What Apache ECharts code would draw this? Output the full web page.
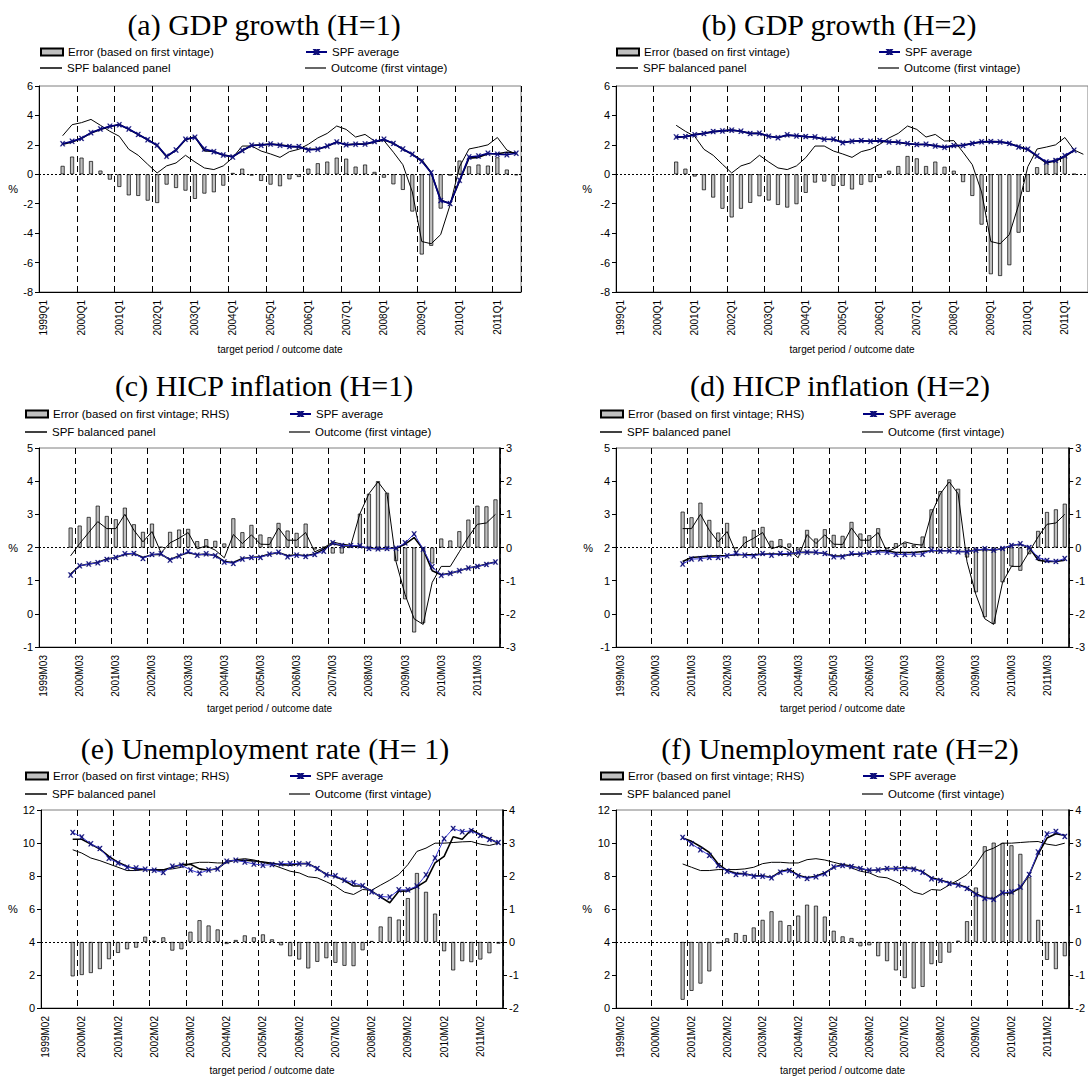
<!DOCTYPE html>
<html>
<head>
<meta charset="utf-8">
<script src="https://cdn.jsdelivr.net/npm/echarts@6/dist/echarts.min.js"></script>
<style>
    html, body { margin: 0; padding: 0; background: #fff; }
    #chart { width: 1088px; height: 1076px; }
</style>
</head>
<body>
<div id="chart"></div>
<script>
const FONT = '"Liberation Sans", Arial, Helvetica, sans-serif';

// x axis: 51 periods from 1999, labelled every 4th
const years = [1999, 2000, 2001, 2002, 2003, 2004, 2005, 2006, 2007, 2008, 2009, 2010, 2011];
const quarterTags = ['Q1', 'Q2', 'Q3', 'Q4'];
const hicpTags = ['M03', 'M06', 'M09', 'M12'];
const unempTags = ['M02', 'M05', 'M08', 'M11'];
const periodCount = 51;

// GDP growth, first value at period index 2 (1999Q3)
const gdpOutcome = [2.62, 3.37, 3.51, 3.73, 3.33, 2.92, 2.58, 1.70, 1.29, 0.68, 0.09, 0.57, 0.77, 1.29, 0.84, 0.43, 0.32, 0.57, 1.13, 1.92, 1.92, 1.58, 1.38, 1.15, 1.54, 1.70, 2.04, 2.47, 2.78, 3.28, 3.05, 2.53, 2.71, 2.26, 2.29, 1.5, 0.65, -1.2, -4.57, -4.72, -4.10, -2.08, 0.52, 1.72, 1.85, 2.0, 2.5, 1.65, 1.36];
const gdpH1Error = [0.57, 1.2, 1.13, 0.9, 0.25, -0.36, -0.86, -1.43, -1.47, -1.79, -1.95, -0.70, -0.93, -1.11, -1.67, -1.31, -1.22, -0.77, 0.09, 0.38, -0.09, -0.45, -0.70, -0.81, -0.34, -0.18, 0.38, 0.75, 0.86, 1.13, 1.06, 0.52, 0.66, 0.16, -0.23, -0.68, -1.06, -2.53, -5.45, -4.86, -2.33, -0.09, 0.93, 0.54, 0.66, 0.59, 1.15, 0.32, -0.07];
const gdpH1Average = [2.08, 2.24, 2.44, 2.83, 3.08, 3.26, 3.37, 3.08, 2.71, 2.35, 1.97, 1.22, 1.65, 2.38, 2.51, 1.72, 1.54, 1.31, 1.18, 1.61, 1.97, 1.97, 2.06, 1.97, 1.88, 1.88, 1.65, 1.70, 1.92, 2.19, 2.01, 2.04, 2.06, 2.22, 2.38, 2.10, 1.72, 1.36, 0.88, 0.11, -1.79, -1.99, -0.41, 1.18, 1.24, 1.43, 1.36, 1.33, 1.43];
const gdpH1Balanced = [2.05, 2.2, 2.45, 2.8, 3.05, 3.25, 3.38, 3.05, 2.7, 2.35, 1.95, 1.2, 1.65, 2.35, 2.55, 1.6, 1.55, 1.3, 1.2, 1.6, 1.95, 2.0, 2.05, 2.0, 1.9, 1.85, 1.7, 1.7, 1.9, 2.2, 2.0, 2.05, 2.05, 2.2, 2.35, 2.1, 1.7, 1.35, 0.95, 0.1, -1.75, -2.0, -0.45, 1.1, 1.15, 1.4, 1.4, 1.5, 1.45];
// H=2 starts at period index 6 (2000Q3)
const gdpH2Error = [0.86, 0.38, -0.15, -1.08, -1.58, -2.34, -2.93, -2.34, -1.94, -1.49, -1.78, -2.08, -2.26, -2.03, -1.26, -0.56, -0.49, -0.78, -0.78, -1.03, -0.71, -0.53, -0.24, 0.24, 0.56, 1.24, 1.08, 0.56, 0.86, 0.51, 0.24, -0.53, -1.47, -3.42, -6.79, -6.91, -6.18, -3.97, -1.19, 0.48, 0.9, 1.05, 1.25, 0.02];
const gdpH2Average = [2.54, 2.56, 2.68, 2.77, 2.90, 2.95, 3.0, 2.93, 2.77, 2.79, 2.58, 2.49, 2.68, 2.61, 2.56, 2.54, 2.38, 2.38, 2.15, 2.24, 2.29, 2.24, 2.29, 2.20, 2.18, 2.09, 2.02, 2.04, 1.93, 1.83, 1.95, 1.96, 2.1, 2.21, 2.22, 2.2, 2.1, 1.86, 1.7, 1.25, 0.83, 0.94, 1.26, 1.63];
const gdpH2Balanced = [2.5, 2.55, 2.7, 2.78, 2.9, 2.95, 3.0, 2.92, 2.78, 2.78, 2.58, 2.5, 2.65, 2.62, 2.57, 2.52, 2.38, 2.36, 2.17, 2.24, 2.28, 2.24, 2.27, 2.2, 2.17, 2.08, 2.02, 2.02, 1.93, 1.85, 1.93, 1.97, 2.1, 2.2, 2.22, 2.2, 2.1, 1.88, 1.68, 1.22, 0.78, 0.9, 1.2, 1.62];

// HICP inflation, first value at period index 3 (1999M12)
const hicpOutcome = [1.75, 2.12, 2.45, 2.78, 2.57, 2.57, 3.0, 2.52, 2.17, 2.48, 1.84, 2.14, 2.28, 2.45, 1.96, 2.05, 1.92, 1.69, 2.39, 2.12, 2.38, 2.10, 2.09, 2.59, 2.22, 2.22, 2.45, 1.87, 1.99, 2.17, 2.10, 2.07, 3.02, 3.62, 3.98, 3.62, 1.57, 0.58, -0.15, -0.32, 0.95, 1.43, 1.43, 1.87, 2.32, 2.70, 2.74, 3.0];
const hicpH1Error = [0.60, 0.66, 0.92, 1.26, 0.95, 0.85, 1.20, 0.70, 0.47, 0.72, 0.02, 0.47, 0.54, 0.56, 0.19, 0.25, 0.20, 0.12, 0.88, 0.46, 0.68, 0.39, 0.31, 0.74, 0.51, 0.44, 0.72, -0.06, 0.02, -0.18, -0.18, 0.03, 1.02, 1.62, 2.0, 1.65, -0.41, -1.56, -2.56, -2.28, -0.48, 0.27, 0.21, 0.49, 0.84, 1.26, 1.24, 1.45];
const hicpH1Average = [1.17, 1.45, 1.50, 1.54, 1.64, 1.70, 1.81, 1.82, 1.67, 1.79, 1.81, 1.62, 1.74, 1.88, 1.77, 1.81, 1.75, 1.56, 1.52, 1.65, 1.70, 1.70, 1.80, 1.86, 1.72, 1.77, 1.73, 1.79, 1.89, 2.14, 2.06, 2.06, 2.05, 1.97, 1.96, 1.97, 1.98, 2.14, 2.41, 1.95, 1.42, 1.16, 1.22, 1.30, 1.38, 1.43, 1.49, 1.56];
const hicpH1Balanced = [1.2, 1.45, 1.5, 1.55, 1.65, 1.7, 1.8, 1.82, 1.7, 1.78, 1.8, 1.63, 1.75, 1.85, 1.78, 1.8, 1.76, 1.58, 1.55, 1.67, 1.7, 1.72, 1.8, 1.85, 1.75, 1.78, 1.75, 1.8, 1.95, 2.12, 2.05, 2.05, 2.03, 1.98, 1.96, 1.97, 1.98, 2.1, 2.3, 1.95, 1.3, 1.18, 1.22, 1.3, 1.38, 1.43, 1.5, 1.56];
// H=2 starts at period index 7 (2000M12)
const hicpH2Error = [1.08, 0.91, 1.35, 0.83, 0.45, 0.74, -0.02, 0.33, 0.53, 0.62, 0.20, 0.25, 0.12, -0.08, 0.53, 0.27, 0.55, 0.38, 0.35, 0.77, 0.42, 0.37, 0.58, -0.05, 0.13, 0.13, 0.08, 0.33, 1.15, 1.70, 2.05, 1.77, -0.30, -1.35, -2.10, -2.30, -1.05, -0.57, -0.70, -0.20, 0.50, 1.07, 1.15, 1.32];
const hicpH2Average = [1.50, 1.65, 1.66, 1.70, 1.70, 1.75, 1.82, 1.77, 1.74, 1.82, 1.77, 1.82, 1.81, 1.85, 1.86, 1.86, 1.82, 1.72, 1.72, 1.82, 1.80, 1.85, 1.86, 1.86, 1.79, 1.79, 1.80, 1.80, 1.92, 1.89, 1.90, 1.87, 1.87, 1.92, 1.96, 1.92, 1.97, 2.06, 2.11, 2.0, 1.70, 1.61, 1.58, 1.67];
const hicpH2Balanced = [1.58, 1.7, 1.72, 1.74, 1.75, 1.76, 1.78, 1.78, 1.78, 1.8, 1.8, 1.8, 1.8, 1.85, 1.86, 1.85, 1.82, 1.74, 1.74, 1.8, 1.8, 1.85, 1.9, 1.9, 1.85, 1.85, 1.85, 1.88, 1.9, 1.9, 1.9, 1.88, 1.88, 1.92, 1.94, 1.92, 1.97, 2.06, 2.1, 2.0, 1.62, 1.58, 1.58, 1.62];

// Unemployment rate, first value at period index 3 (1999M11)
const unempOutcome = [9.59, 9.39, 9.09, 8.93, 8.73, 8.53, 8.33, 8.33, 8.39, 8.39, 8.39, 8.43, 8.53, 8.75, 8.83, 8.83, 8.79, 8.79, 8.99, 9.05, 8.97, 8.83, 8.69, 8.49, 8.29, 8.19, 7.95, 7.89, 7.65, 7.39, 7.02, 6.88, 7.18, 7.14, 7.45, 7.75, 8.09, 8.69, 9.49, 9.69, 9.99, 9.99, 10.03, 10.07, 10.09, 9.93, 9.85, 9.99];
const unempH1Error = [-1.04, -1.0, -0.94, -0.82, -0.52, -0.33, -0.22, -0.17, 0.16, 0.04, 0.14, -0.26, -0.22, 0.31, 0.66, 0.50, 0.38, -0.06, 0.06, 0.20, 0.14, 0.23, 0.08, -0.10, -0.43, -0.53, -0.80, -0.60, -0.49, -0.63, -0.72, -0.73, -0.25, 0.03, 0.47, 0.76, 0.68, 1.33, 2.09, 1.52, 0.86, -0.28, -0.86, -0.58, -0.61, -0.53, -0.34, -0.05];
const unempH1Average = [10.64, 10.36, 9.95, 9.67, 9.07, 8.79, 8.53, 8.49, 8.41, 8.35, 8.21, 8.59, 8.65, 8.37, 8.17, 8.37, 8.43, 8.89, 8.95, 8.85, 8.73, 8.65, 8.69, 8.75, 8.75, 8.75, 8.73, 8.45, 8.07, 8.01, 7.75, 7.59, 7.41, 7.04, 6.76, 6.72, 7.16, 7.16, 7.39, 8.07, 9.09, 10.26, 10.88, 10.68, 10.74, 10.46, 10.21, 10.03];
const unempH1Balanced = [10.23, 10.23, 9.93, 9.63, 9.19, 8.83, 8.57, 8.43, 8.39, 8.35, 8.37, 8.53, 8.69, 8.71, 8.43, 8.35, 8.45, 8.89, 8.95, 8.95, 8.91, 8.85, 8.77, 8.69, 8.65, 8.75, 8.75, 8.45, 8.09, 7.97, 7.73, 7.39, 7.39, 7.08, 6.72, 6.38, 7.08, 7.10, 7.35, 7.69, 8.79, 9.19, 10.38, 10.23, 10.80, 10.50, 10.26, 9.99];
// H=2 starts at period index 7 (2000M11)
const unempH2Error = [-1.75, -1.48, -1.26, -0.89, -0.04, 0.11, 0.27, 0.21, 0.44, 0.67, 0.93, 0.64, 0.51, 0.80, 1.13, 1.10, 0.77, 0.34, 0.17, 0.12, -0.13, -0.10, -0.43, -0.58, -0.86, -1.09, -1.41, -1.36, -0.67, -0.63, -0.32, 0.04, 0.63, 1.65, 2.9, 3.01, 3.0, 2.93, 2.67, 1.96, 0.67, -0.54, -0.82, -0.43];
const unempH2Average = [10.34, 9.95, 9.59, 9.25, 8.63, 8.29, 8.09, 8.13, 7.99, 7.99, 7.89, 8.23, 8.33, 8.01, 7.85, 7.95, 8.13, 8.55, 8.63, 8.57, 8.45, 8.35, 8.37, 8.45, 8.45, 8.45, 8.41, 8.23, 7.83, 7.73, 7.55, 7.45, 7.25, 6.88, 6.64, 6.58, 6.98, 7.04, 7.33, 8.09, 9.45, 10.54, 10.70, 10.40];
const unempH2Balanced = [10.30, 10.1, 9.79, 9.43, 8.73, 8.33, 8.17, 8.13, 8.01, 8.01, 7.91, 8.27, 8.39, 8.05, 7.89, 7.99, 8.19, 8.53, 8.69, 8.59, 8.45, 8.33, 8.37, 8.45, 8.45, 8.49, 8.45, 8.25, 7.89, 7.75, 7.59, 7.49, 7.29, 6.92, 6.68, 6.62, 6.98, 6.98, 7.29, 8.09, 9.33, 10.30, 10.56, 10.46];

function buildCategories(tags) {
    const out = [];
    years.forEach(y => tags.forEach(t => out.push(y + t)));
    return out.slice(0, periodCount);
}

function pad(start, values) {
    return new Array(start).fill(null).concat(values);
}

const gdpCategories = buildCategories(quarterTags);
const hicpCategories = buildCategories(hicpTags);
const unempCategories = buildCategories(unempTags);

const ERR_PLAIN = 'Error (based on first vintage)';
const ERR_RHS = 'Error (based on first vintage; RHS)';
const MARKER = 'path://M0,0L2.5,0L5,3.5L7.5,0L10,0L6.5,5L10,10L7.5,10L5,6.5L2.5,10L0,10L3.5,5Z';

const panels = [
    {
        title: '(a) GDP growth (H=1)', titleX: 264, titleY: 24,
        grid: { left: 39, top: 86, width: 482, height: 206 },
        cats: gdpCategories, leftAxis: { min: -8, max: 6, interval: 2 }, rightAxis: null,
        pctGap: 21, xNameGap: 52, errorName: ERR_PLAIN,
        legendX: [40, 305], legendY: [46, 62], avgColor: '#000080', avgWidth: 1.6,
        error: pad(2, gdpH1Error), avg: pad(2, gdpH1Average), balanced: pad(2, gdpH1Balanced), outcome: pad(2, gdpOutcome)
    },
    {
        title: '(b) GDP growth (H=2)', titleX: 839, titleY: 24,
        grid: { left: 616, top: 86, width: 482, height: 206 },
        cats: gdpCategories, leftAxis: { min: -8, max: 6, interval: 2 }, rightAxis: null,
        pctGap: 24, xNameGap: 52, errorName: ERR_PLAIN,
        legendX: [616, 878], legendY: [46, 62], avgColor: '#000080', avgWidth: 1.6,
        error: pad(6, gdpH2Error), avg: pad(6, gdpH2Average), balanced: pad(6, gdpH2Balanced), outcome: pad(6, gdpOutcome.slice(4))
    },
    {
        title: '(c) HICP inflation (H=1)', titleX: 264, titleY: 385,
        grid: { left: 39, top: 448, width: 461, height: 199 },
        cats: hicpCategories, leftAxis: { min: -1, max: 5, interval: 1 }, rightAxis: { min: -3, max: 3, interval: 1 },
        pctGap: 21, xNameGap: 56, errorName: ERR_RHS,
        legendX: [25, 289], legendY: [408, 426], avgColor: '#3a3ad6', avgWidth: 1,
        error: pad(3, hicpH1Error), avg: pad(3, hicpH1Average), balanced: pad(3, hicpH1Balanced), outcome: pad(3, hicpOutcome)
    },
    {
        title: '(d) HICP inflation (H=2)', titleX: 840, titleY: 385,
        grid: { left: 616, top: 448, width: 461, height: 199 },
        cats: hicpCategories, leftAxis: { min: -1, max: 5, interval: 1 }, rightAxis: { min: -3, max: 3, interval: 1 },
        pctGap: 23, xNameGap: 56, errorName: ERR_RHS,
        legendX: [600, 862], legendY: [408, 426], avgColor: '#3a3ad6', avgWidth: 1,
        error: pad(7, hicpH2Error), avg: pad(7, hicpH2Average), balanced: pad(7, hicpH2Balanced), outcome: pad(7, hicpOutcome.slice(4))
    },
    {
        title: '(e) Unemployment rate (H= 1)', titleX: 265, titleY: 748,
        grid: { left: 41, top: 810, width: 462, height: 199 },
        cats: unempCategories, leftAxis: { min: 0, max: 12, interval: 2 }, rightAxis: { min: -2, max: 4, interval: 1 },
        pctGap: 23, xNameGap: 57, errorName: ERR_RHS,
        legendX: [25, 289], legendY: [770, 788], avgColor: '#3a3ad6', avgWidth: 1,
        error: pad(3, unempH1Error), avg: pad(3, unempH1Average), balanced: pad(3, unempH1Balanced), outcome: pad(3, unempOutcome)
    },
    {
        title: '(f) Unemployment rate (H=2)', titleX: 840, titleY: 748,
        grid: { left: 616, top: 810, width: 461, height: 199 },
        cats: unempCategories, leftAxis: { min: 0, max: 12, interval: 2 }, rightAxis: { min: -2, max: 4, interval: 1 },
        pctGap: 24, xNameGap: 57, errorName: ERR_RHS,
        legendX: [600, 862], legendY: [770, 788], avgColor: '#3a3ad6', avgWidth: 1,
        error: pad(7, unempH2Error), avg: pad(7, unempH2Average), balanced: pad(7, unempH2Balanced), outcome: pad(7, unempOutcome.slice(4))
    }
];

const grid = [];
const xAxis = [];
const yAxis = [];
const series = [];
const legend = [];
const graphic = [];

function valueAxis(gridIndex, range, position, extra) {
    return Object.assign({
        type: 'value',
        gridIndex: gridIndex,
        position: position,
        min: range.min,
        max: range.max,
        interval: range.interval,
        axisLine: { show: true, onZero: false, lineStyle: { color: '#000', width: position === 'right' ? 1.6 : 1 } },
        axisTick: { show: true, length: 4, lineStyle: { color: '#000' } },
        axisLabel: { fontSize: 11, color: '#000', fontFamily: FONT, margin: 6 },
        splitLine: { show: false }
    }, extra || {});
}

function legendItem(name, left, top, width, height, icon) {
    const item = {
        data: [name],
        left: left,
        top: top,
        padding: 0,
        itemGap: 0,
        itemWidth: width,
        itemHeight: height,
        selectedMode: false,
        textStyle: { fontSize: 11.5, color: '#000', fontFamily: FONT }
    };
    if (icon) {
        item.icon = icon;
    }
    return item;
}

panels.forEach((p, k) => {
    grid.push(Object.assign({ show: true, borderColor: '#7f7f7f', borderWidth: 1 }, p.grid));

    xAxis.push({
        type: 'category',
        gridIndex: k,
        data: p.cats,
        boundaryGap: true,
        axisLine: { onZero: false, lineStyle: { color: '#000', width: 1 } },
        axisTick: { show: false },
        axisLabel: {
            interval: (i) => i % 4 === 0,
            rotate: 90,
            fontSize: 10,
            color: '#000',
            fontFamily: FONT,
            margin: 8
        },
        splitLine: {
            show: true,
            interval: (i) => i > 0 && i % 4 === 0,
            lineStyle: { color: '#000', width: 1, type: [6, 4] }
        },
        name: 'target period / outcome date',
        nameLocation: 'middle',
        nameGap: p.xNameGap,
        nameTextStyle: { fontSize: 10, color: '#000', fontFamily: FONT }
    });

    const leftIdx = yAxis.length;
    yAxis.push(valueAxis(k, p.leftAxis, 'left', {
        name: '%',
        nameLocation: 'middle',
        nameRotate: 0,
        nameGap: p.pctGap,
        nameTextStyle: { fontSize: 11, color: '#000', fontFamily: FONT }
    }));
    let barIdx = leftIdx;
    if (p.rightAxis) {
        barIdx = yAxis.length;
        yAxis.push(valueAxis(k, p.rightAxis, 'right'));
    }

    series.push({
        type: 'bar',
        name: p.errorName,
        xAxisIndex: k,
        yAxisIndex: barIdx,
        data: p.error,
        barWidth: 4,
        itemStyle: { color: '#c0c0c0', borderColor: '#000', borderWidth: 0.7 },
        markLine: {
            silent: true,
            symbol: ['none', 'none'],
            label: { show: false },
            lineStyle: { color: '#000', width: 1, type: [2, 2] },
            data: [{ yAxis: 0 }]
        },
        z: 2
    });
    series.push({
        type: 'line',
        name: 'Outcome (first vintage)',
        xAxisIndex: k,
        yAxisIndex: leftIdx,
        data: p.outcome,
        symbol: 'none',
        itemStyle: { color: '#000' },
        lineStyle: { color: '#000', width: 1 },
        z: 3
    });
    series.push({
        type: 'line',
        name: 'SPF balanced panel',
        xAxisIndex: k,
        yAxisIndex: leftIdx,
        data: p.balanced,
        symbol: 'none',
        itemStyle: { color: '#000' },
        lineStyle: { color: '#000', width: 1.6 },
        z: 4
    });
    series.push({
        type: 'line',
        name: 'SPF average',
        xAxisIndex: k,
        yAxisIndex: leftIdx,
        data: p.avg,
        symbol: MARKER,
        symbolSize: 5,
        showAllSymbol: true,
        itemStyle: { color: '#10107a', borderColor: '#10107a', borderWidth: 0.3 },
        lineStyle: { color: p.avgColor, width: p.avgWidth },
        z: 5
    });

    legend.push(legendItem(p.errorName, p.legendX[0], p.legendY[0], 22, 7, 'rect'));
    legend.push(legendItem('SPF average', p.legendX[1], p.legendY[0], 21, 5));
    legend.push(legendItem('SPF balanced panel', p.legendX[0], p.legendY[1], 22, 1.5, 'rect'));
    legend.push(legendItem('Outcome (first vintage)', p.legendX[1], p.legendY[1], 21, 1.2, 'rect'));

    graphic.push({
        type: 'text',
        x: p.titleX,
        y: p.titleY,
        style: {
            text: p.title,
            font: '30px "Liberation Serif", "Times New Roman", serif',
            fill: '#000',
            align: 'center',
            verticalAlign: 'middle',
            textAlign: 'center',
            textVerticalAlign: 'middle'
        }
    });
});

const chart = echarts.init(document.getElementById('chart'), null, { renderer: 'svg' });
chart.setOption({
    animation: false,
    backgroundColor: '#fff',
    textStyle: { fontFamily: FONT },
    grid: grid,
    xAxis: xAxis,
    yAxis: yAxis,
    legend: legend,
    graphic: graphic,
    series: series
});
</script>
</body>
</html>
